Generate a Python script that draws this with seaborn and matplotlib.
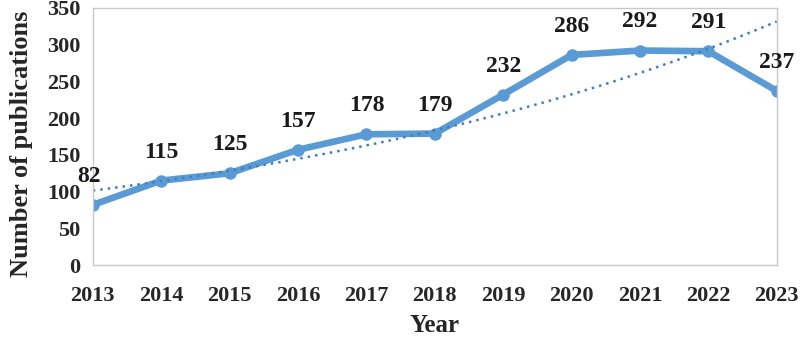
import numpy as np
import pandas as pd
import matplotlib
matplotlib.use("Agg")
import matplotlib.pyplot as plt
import seaborn as sns

years = [2013, 2014, 2015, 2016, 2017, 2018, 2019, 2020, 2021, 2022, 2023]
publications = [82, 115, 125, 157, 178, 179, 232, 286, 292, 291, 237]
yticks = [0, 50, 100, 150, 200, 250, 300, 350]

df = pd.DataFrame({"Year": years, "Publications": publications})

sns.set_style("white")
plt.rcParams['font.family'] = ['Liberation Serif', 'DejaVu Serif']

fig = plt.figure(figsize=(8, 3.43), dpi=100)
ax = fig.add_axes([0.116, 0.227, 0.855, 0.75])

blue = "#5B9BD5"
sns.lineplot(data=df, x="Year", y="Publications", ax=ax, color=blue,
             linewidth=4.8, marker="o", markersize=9, markeredgewidth=0)

# exponential trendline (Excel style)
x = np.array(years, dtype=float)
coef = np.polyfit(x - years[0], np.log(publications), 1)
xs = np.linspace(years[0], years[-1], 100)
ax.plot(xs, np.exp(coef[1] + coef[0] * (xs - years[0])), linestyle=(0, (1, 2)),
        color="#3F7FC4", linewidth=1.8)

for yr, v in zip(years, publications):
    dx = -0.05 if yr == years[0] else 0
    ax.annotate(str(v), (yr + dx, v), xytext=(0, 13), textcoords="offset points",
                ha="center", va="bottom", fontsize=17, fontweight="bold", color="#1a1a1a",
                annotation_clip=False)

ax.set_xlim(years[0], years[-1])
ax.set_ylim(0, 350)
ax.set_xticks(years)
ax.set_yticks(yticks)
ax.tick_params(axis="x", direction="out", length=6, color="#bfbfbf", labelsize=16, pad=9)
ax.tick_params(axis="y", length=0, labelsize=16, pad=9)
for lab in ax.get_xticklabels() + ax.get_yticklabels():
    lab.set_fontweight("bold")
    lab.set_color("#262626")

for s in ax.spines.values():
    s.set_color("#c8c8c8")
    s.set_linewidth(1)

ax.set_xlabel("Year", fontsize=18, fontweight="bold", color="#262626", labelpad=6)
ax.set_ylabel("Number of publications", fontsize=19, fontweight="bold", color="#262626")
ax.yaxis.set_label_coords(-0.088, 0.47)

fig.savefig("out.png", dpi=100)
